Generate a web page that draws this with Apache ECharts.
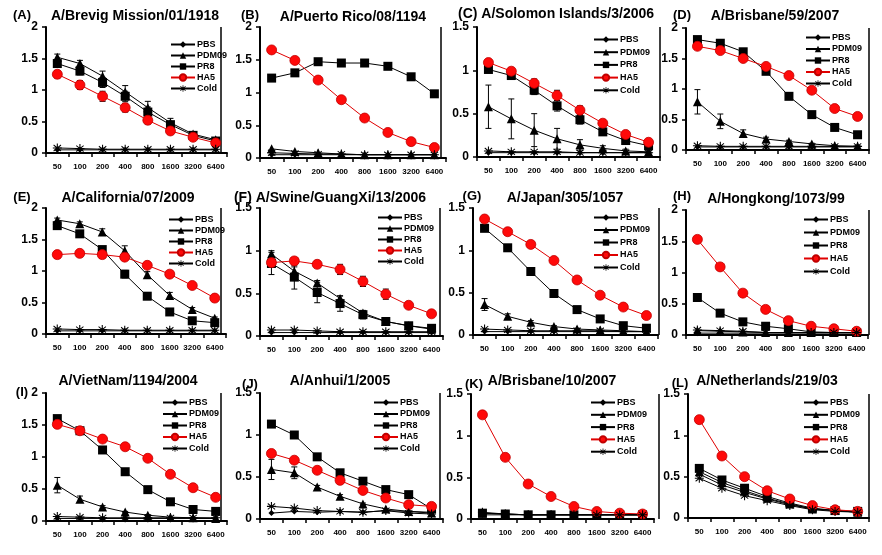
<!DOCTYPE html>
<html><head><meta charset="utf-8">
<script src="https://cdn.jsdelivr.net/npm/echarts@6/dist/echarts.min.js"></script>
<style>html,body{margin:0;padding:0;background:#fff}#c{width:882px;height:555px}</style>
</head><body><div id="c"></div>
<script>
// ---------- DATA ----------
const DILUTIONS = ['50','100','200','400','800','1600','3200','6400'];
const SERIES_NAMES = ['PBS','PDM09','PR8','HA5','Cold'];
const PANEL_LETTERS = ['(A)','(B)','(C)','(D)','(E)','(F)','(G)','(H)','(I)','(J)','(K)','(L)'];
const PANEL_TITLES = ['A/Brevig Mission/01/1918','A/Puerto Rico/08/1194','A/Solomon Islands/3/2006','A/Brisbane/59/2007',
  'A/California/07/2009','A/Swine/GuangXi/13/2006','A/Japan/305/1057','A/Hongkong/1073/99',
  'A/VietNam/1194/2004','A/Anhui/1/2005','A/Brisbane/10/2007','A/Netherlands/219/03'];
const Y_MAX = [2,2,1.5,2, 2,1.5,1.5,2, 2,1.5,1.5,1.5];

const PBS = [
  [0.05,0.05,0.05,0.05,0.05,0.05,0.05,0.05],
  [0.05,0.05,0.05,0.05,0.05,0.05,0.05,0.05],
  [0.05,0.05,0.05,0.05,0.05,0.05,0.05,0.05],
  [0.05,0.05,0.05,0.05,0.05,0.05,0.05,0.05],
  [0.05,0.05,0.05,0.05,0.05,0.05,0.05,0.05],
  [0.04,0.04,0.04,0.04,0.04,0.04,0.04,0.04],
  [0.04,0.04,0.04,0.04,0.04,0.04,0.04,0.04],
  [0.03,0.03,0.03,0.03,0.03,0.03,0.03,0.03],
  [0.04,0.04,0.04,0.04,0.04,0.04,0.04,0.04],
  [0.07,0.09,0.08,0.09,0.08,0.10,0.09,0.08],
  [0.05,0.05,0.05,0.05,0.05,0.05,0.05,0.05],
  [0.53,0.40,0.31,0.23,0.16,0.11,0.09,0.07]
];
const PDM09 = [
  [1.52,1.42,1.22,0.97,0.72,0.48,0.30,0.21],
  [0.14,0.10,0.08,0.06,0.05,0.05,0.05,0.05],
  [0.58,0.44,0.31,0.21,0.14,0.10,0.07,0.06],
  [0.79,0.47,0.27,0.18,0.14,0.10,0.07,0.06],
  [1.81,1.75,1.62,1.32,0.94,0.61,0.39,0.25],
  [0.96,0.76,0.62,0.44,0.27,0.17,0.12,0.08],
  [0.36,0.22,0.15,0.10,0.07,0.06,0.05,0.04],
  [0.07,0.06,0.05,0.04,0.04,0.04,0.04,0.04],
  [0.56,0.34,0.22,0.14,0.09,0.06,0.05,0.04],
  [0.59,0.55,0.38,0.27,0.18,0.12,0.09,0.07],
  [0.07,0.06,0.05,0.05,0.05,0.05,0.05,0.05],
  [0.56,0.43,0.33,0.24,0.17,0.11,0.09,0.07]
];
const PR8 = [
  [1.42,1.30,1.12,0.90,0.65,0.45,0.28,0.19],
  [1.22,1.30,1.47,1.45,1.45,1.40,1.24,0.98],
  [1.01,0.94,0.77,0.59,0.43,0.29,0.19,0.13],
  [1.81,1.75,1.61,1.29,0.88,0.58,0.37,0.25],
  [1.72,1.59,1.34,0.95,0.60,0.35,0.21,0.18],
  [0.85,0.69,0.51,0.38,0.25,0.17,0.12,0.09],
  [1.26,1.03,0.75,0.49,0.30,0.19,0.11,0.08],
  [0.60,0.35,0.21,0.14,0.10,0.05,0.04,0.04],
  [1.60,1.41,1.11,0.77,0.49,0.30,0.18,0.15],
  [1.13,1.00,0.74,0.55,0.45,0.35,0.29,0.12],
  [0.07,0.06,0.05,0.05,0.05,0.05,0.05,0.05],
  [0.60,0.46,0.36,0.26,0.18,0.12,0.09,0.08]
];
const HA5 = [
  [1.25,1.08,0.90,0.72,0.52,0.35,0.25,0.16],
  [1.65,1.49,1.19,0.89,0.61,0.39,0.25,0.16],
  [1.09,0.99,0.85,0.71,0.54,0.39,0.26,0.17],
  [1.70,1.63,1.50,1.37,1.22,0.98,0.68,0.55],
  [1.26,1.28,1.26,1.22,1.09,0.95,0.77,0.57],
  [0.86,0.88,0.84,0.78,0.64,0.49,0.36,0.26],
  [1.37,1.22,1.07,0.88,0.65,0.47,0.33,0.23],
  [1.53,1.09,0.67,0.41,0.23,0.14,0.10,0.06],
  [1.51,1.41,1.28,1.16,0.98,0.73,0.52,0.37],
  [0.78,0.70,0.58,0.46,0.34,0.25,0.17,0.15],
  [1.25,0.74,0.42,0.27,0.15,0.09,0.07,0.06],
  [1.19,0.75,0.50,0.33,0.23,0.15,0.10,0.08]
];
const COLD = [
  [0.08,0.07,0.06,0.06,0.06,0.06,0.06,0.06],
  [0.08,0.07,0.06,0.06,0.05,0.05,0.05,0.05],
  [0.07,0.06,0.06,0.06,0.05,0.05,0.05,0.05],
  [0.07,0.06,0.06,0.06,0.06,0.06,0.06,0.06],
  [0.08,0.07,0.07,0.06,0.06,0.06,0.06,0.06],
  [0.07,0.07,0.06,0.05,0.05,0.05,0.05,0.05],
  [0.07,0.06,0.05,0.05,0.05,0.05,0.04,0.04],
  [0.08,0.07,0.06,0.04,0.04,0.04,0.04,0.04],
  [0.07,0.06,0.05,0.05,0.05,0.05,0.05,0.05],
  [0.15,0.13,0.10,0.09,0.08,0.10,0.07,0.06],
  [0.08,0.06,0.05,0.05,0.05,0.05,0.05,0.05],
  [0.48,0.36,0.27,0.21,0.15,0.10,0.08,0.07]
];
// error bar half-widths (0 = none drawn)
const PDM09_ERR = [
  [0.05,0.05,0.08,0.10,0.10,0.07,0.04,0.03],
  [0,0,0,0,0,0,0,0],
  [0.25,0.23,0.19,0.12,0.06,0.03,0.02,0.01],
  [0.20,0.12,0.06,0.03,0.02,0.01,0.01,0.01],
  [0.03,0.03,0.05,0.08,0.05,0.05,0.03,0.02],
  [0.04,0.05,0.03,0.03,0.02,0.02,0.01,0.01],
  [0.07,0.03,0.02,0.01,0.01,0,0,0],
  [0,0,0,0,0,0,0,0],
  [0.12,0.05,0.02,0.01,0.01,0,0,0],
  [0.12,0.07,0.02,0.02,0.01,0,0,0],
  [0,0,0,0,0,0,0,0],
  [0,0,0,0,0,0,0,0]
];
const PR8_ERR = [
  [0.05,0.06,0.08,0.08,0.08,0.05,0.03,0.03],
  [0,0,0,0,0,0,0,0],
  [0.03,0.04,0.05,0.06,0.05,0.04,0.02,0.02],
  [0.02,0.02,0.02,0.02,0.02,0.02,0.02,0.02],
  [0.03,0.03,0.03,0.06,0.03,0.03,0.02,0.02],
  [0.13,0.14,0.12,0.09,0.05,0.03,0.02,0.02],
  [0,0,0,0,0,0,0,0],
  [0,0,0,0,0,0,0,0],
  [0,0,0,0,0,0,0,0],
  [0,0,0,0,0,0,0,0],
  [0,0,0,0,0,0,0,0],
  [0,0,0,0,0,0,0,0]
];
const HA5_ERR = [
  [0.06,0.07,0.08,0.07,0.06,0.04,0.03,0.02],
  [0,0,0,0,0,0,0,0],
  [0.03,0.04,0.05,0.06,0.05,0.04,0.03,0.02],
  [0,0,0,0,0,0,0,0],
  [0,0,0,0,0,0,0,0],
  [0.04,0.04,0.04,0.06,0.06,0.06,0.03,0.02],
  [0,0,0,0,0,0,0,0],
  [0,0,0,0,0,0,0,0],
  [0,0,0,0,0,0,0,0],
  [0,0,0,0,0,0,0,0],
  [0,0,0,0,0,0,0,0],
  [0,0,0,0,0,0,0,0]
];

// ---------- LAYOUT ----------
const GRIDS = [
  [46,27,181,126],[260,27,186,131],[477,27,183,130],[686,28,183,122],
  [46,208,180,126],[260,208,183,128],[473,208,185,127],[686,210,182,125],
  [46,393,181,128],[260,393,183,126],[471,394,183,125],[688,394,181,124]
];
const FRAME_X = [221,441,660,869, 221,440,659,869, 221,440,659,869];
// [letterX, letterY, titleCenterX, titleY]
const TITLE_POS = [
  [22,15,135,16],[250,15,353,17],[null,0,556,14],[682,15,775,16],
  [22,197,128,198],[null,0,330,198],[472,196,565,198],[682,196,776,199],
  [22,392,128,381],[250,384,340,381],[474,384,552,381],[680,383,767,381]
];
const LEGEND_POS = [[170,40,10],null,[593,35,11.7],[805,33,10.5],
  [168,215,10],[377,213,10],[593,213,11.5],[803,215,12],
  [162,398,10.5],[373,398,10.5],[590,398,11.3],[803,398,11.3]];

const ASTERISK = 'path://M4.4,0 H5.6 V10 H4.4 Z M0.6,2.2 L1.2,1.2 L9.4,7.8 L8.8,8.8 Z M8.8,1.2 L9.4,2.2 L1.2,8.8 L0.6,7.8 Z M0,4.4 H10 V5.6 H0 Z';
const FONT = '"Liberation Sans", Arial, sans-serif';

const grid=[], xAxis=[], yAxis=[], series=[], legend=[], graphic=[];

function errSeries(gi, vals, errs, color){
  const d=[];
  vals.forEach((v,k)=>{ if(errs[k]>0) d.push([k, v-errs[k], v+errs[k]]); });
  return {type:'custom', xAxisIndex:gi, yAxisIndex:gi, z:1, silent:true, data:d,
    renderItem:(p,api)=>{
      const lo=api.coord([api.value(0),api.value(1)]), hi=api.coord([api.value(0),api.value(2)]);
      const s={stroke:color,lineWidth:1};
      return {type:'group',children:[
        {type:'line',shape:{x1:lo[0],y1:lo[1],x2:hi[0],y2:hi[1]},style:s},
        {type:'line',shape:{x1:lo[0]-3,y1:lo[1],x2:lo[0]+3,y2:lo[1]},style:s},
        {type:'line',shape:{x1:hi[0]-3,y1:hi[1],x2:hi[0]+3,y2:hi[1]},style:s}]};
    }};
}

for(let i=0;i<12;i++){
  const [l,t,w,h]=GRIDS[i];
  grid.push({left:l,top:t,width:w,height:h,containLabel:false});
  xAxis.push({type:'category',gridIndex:i,data:DILUTIONS,boundaryGap:true,
    axisLine:{lineStyle:{color:'#000',width:2}},
    axisTick:{show:true,length:4,lineStyle:{color:'#000',width:1.5}},
    axisLabel:{color:'#000',fontSize:8,fontWeight:'bold',fontFamily:FONT,margin:10,interval:0}});
  yAxis.push({type:'value',gridIndex:i,min:0,max:Y_MAX[i],interval:0.5,
    axisLine:{show:true,lineStyle:{color:'#000',width:2}},
    axisTick:{show:true,length:4,lineStyle:{color:'#000',width:1.5}},
    splitLine:{show:false},
    axisLabel:{color:'#000',fontSize:12,fontWeight:'bold',fontFamily:FONT,margin:8}});
  series.push(errSeries(i,PDM09[i],PDM09_ERR[i],'#000'));
  series.push(errSeries(i,PR8[i],PR8_ERR[i],'#000'));
  series.push(errSeries(i,HA5[i],HA5_ERR[i],'#000'));
  const base={type:'line',xAxisIndex:i,yAxisIndex:i,animation:false,z:3};
  series.push(Object.assign({},base,{name:'PBS',data:PBS[i],symbol:'diamond',symbolSize:6,
    itemStyle:{color:'#000'},lineStyle:{color:'#000',width:1}}));
  series.push(Object.assign({},base,{name:'PDM09',data:PDM09[i],symbol:'triangle',symbolSize:9,
    itemStyle:{color:'#000'},lineStyle:{color:'#000',width:1}}));
  series.push(Object.assign({},base,{name:'PR8',data:PR8[i],symbol:'rect',symbolSize:9,
    itemStyle:{color:'#000'},lineStyle:{color:'#000',width:1}}));
  series.push(Object.assign({},base,{name:'HA5',data:HA5[i],symbol:'circle',symbolSize:10,
    itemStyle:{color:'#ff0a0a',borderColor:'#c00000',borderWidth:0.8},lineStyle:{color:'#e00000',width:1}}));
  series.push(Object.assign({},base,{name:'Cold',data:COLD[i],symbol:ASTERISK,symbolSize:9,
    itemStyle:{color:'#000'},lineStyle:{color:'#000',width:1}}));
  if(LEGEND_POS[i]){
    const [lx,ly,gap]=LEGEND_POS[i];
    legend.push({orient:'vertical',left:lx,top:ly,itemWidth:24,itemHeight:8,itemGap:gap-8,
      selectedMode:false,padding:0,data:SERIES_NAMES,
      textStyle:{color:'#000',fontSize:9,fontWeight:'bold',fontFamily:FONT,padding:[0,0,0,-3]}});
  }
  const [lx,ly,tx,ty]=TITLE_POS[i];
  const full = lx===null ? PANEL_LETTERS[i]+' '+PANEL_TITLES[i] : PANEL_TITLES[i];
  graphic.push({type:'text',x:tx,y:ty,style:{text:full,font:'bold 14px '+FONT,fill:'#000',textAlign:'center',textVerticalAlign:'middle',verticalAlign:'middle'}});
  if(lx!==null) graphic.push({type:'text',x:lx,y:ly,style:{text:PANEL_LETTERS[i],font:'bold 13px '+FONT,fill:'#000',textAlign:'center',textVerticalAlign:'middle',verticalAlign:'middle'}});
  graphic.push({type:'line',shape:{x1:FRAME_X[i],y1:t,x2:FRAME_X[i],y2:t+h},style:{stroke:'#000',lineWidth:1.5}});
}

const chart=echarts.init(document.getElementById('c'),null,{renderer:'canvas'});
chart.setOption({animation:false,backgroundColor:'#fff',grid,xAxis,yAxis,series,legend,graphic});
</script></body></html>
